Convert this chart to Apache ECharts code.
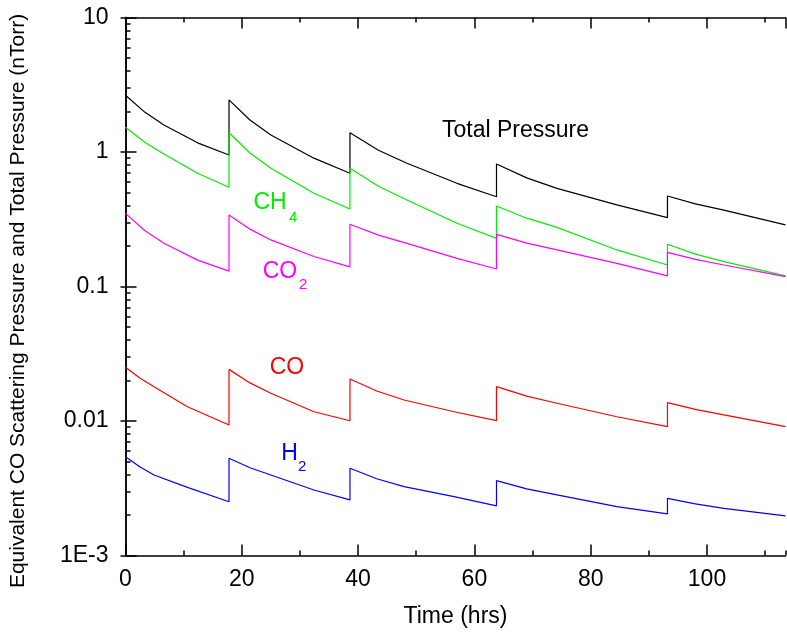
<!DOCTYPE html>
<html><head><meta charset="utf-8">
<script src="https://cdn.jsdelivr.net/npm/echarts@6/dist/echarts.min.js"></script>
<style>html,body{margin:0;padding:0;background:#fff}#c{width:787px;height:637px}</style>
</head><body><div id="c"></div>
<script>
// ---- data ----
const tUpper = [0, 3.3, 6.6, 12.4, 17.8, 17.8, 21.4, 25.0, 32.4, 38.6, 38.6, 43.5, 48.4, 57.0, 63.8, 63.8, 69.0, 74.2, 84.5, 93.2, 93.2, 98.0, 102.9, 113.5];
const totalPressure = [2.64, 1.98, 1.59, 1.17, 0.95, 2.44, 1.73, 1.34, 0.90, 0.695, 1.39, 1.03, 0.824, 0.585, 0.465, 0.814, 0.642, 0.537, 0.404, 0.325, 0.471, 0.411, 0.370, 0.287];
const ch4 = [1.53, 1.18, 0.966, 0.695, 0.547, 1.39, 0.983, 0.757, 0.493, 0.377, 0.757, 0.556, 0.44, 0.295, 0.228, 0.397, 0.322, 0.275, 0.187, 0.1445, 0.206, 0.174, 0.153, 0.120];
const co2 = [0.350, 0.261, 0.2095, 0.157, 0.130, 0.340, 0.267, 0.222, 0.167, 0.140, 0.290, 0.241, 0.2095, 0.162, 0.135, 0.244, 0.210, 0.187, 0.1487, 0.120, 0.1796, 0.159, 0.1445, 0.1186];
const tLower = [0, 2.45, 4.9, 10.65, 17.8, 17.8, 21.4, 25.0, 32.4, 38.6, 38.6, 43.2, 47.9, 56.5, 63.8, 63.8, 69.0, 74.2, 84.5, 93.2, 93.2, 98.0, 102.9, 113.5];
const co = [0.0251, 0.0209, 0.0180, 0.01277, 0.00933, 0.0242, 0.0192, 0.01607, 0.01172, 0.01005, 0.0205, 0.0167, 0.01432, 0.01172, 0.01005, 0.0180, 0.0153, 0.01355, 0.01076, 0.00908, 0.01368, 0.0122, 0.0111, 0.00908];
const h2 = [0.00543, 0.00457, 0.00397, 0.00321, 0.00251, 0.00528, 0.00449, 0.00397, 0.00307, 0.00259, 0.00445, 0.00372, 0.00325, 0.00274, 0.00234, 0.0036, 0.00313, 0.00282, 0.00231, 0.00204, 0.00266, 0.00242, 0.00224, 0.00197];
const yTickValues = [0.001, 0.01, 0.1, 1, 10];
const yTickLabels = ['1E-3', '0.01', '0.1', '1', '10'];
const yMinorValues = [];
for (const d of [0.001, 0.01, 0.1, 1]) for (let k = 2; k <= 9; k++) yMinorValues.push(+(k * d).toPrecision(3));

const FONT = '"Liberation Sans", Arial, sans-serif';
const X_MAX = 113.5;
function pairs(t, v) { return t.map((x, i) => [x, v[i]]); }

const chart = echarts.init(document.getElementById('c'));
const axLine = { show: true, lineStyle: { color: '#000', width: 1.5 } };
const noLine = { show: false };
const tick = (len) => ({ show: true, inside: true, length: len, lineStyle: { color: '#000', width: 1.5 } });

function line(name, t, v, color) {
  return { name, type: 'line', xAxisIndex: 0, yAxisIndex: 0, data: pairs(t, v), showSymbol: false, symbol: 'none',
    lineStyle: { color, width: 1.2 }, itemStyle: { color }, animation: false, silent: true };
}

chart.setOption({
  animation: false,
  backgroundColor: '#fff',
  grid: { left: 125.5, right: 1.5, top: 17.5, bottom: 81.5, containLabel: false },
  xAxis: [
    { type: 'value', position: 'bottom', min: 0, max: X_MAX, interval: 20, axisLine: axLine, axisTick: tick(11),
      axisLabel: { color: '#000', fontSize: 23, fontFamily: FONT, margin: 13, showMaxLabel: false },
      splitLine: { show: false },
      name: 'Time (hrs)', nameLocation: 'middle', nameGap: 50,
      nameTextStyle: { color: '#000', fontSize: 23, fontFamily: FONT } },
    { type: 'value', position: 'bottom', min: 0, max: X_MAX, interval: 10, axisLine: noLine, axisTick: tick(5),
      axisLabel: { show: false }, splitLine: { show: false } },
    { type: 'value', position: 'top', min: 0, max: X_MAX, interval: 20, axisLine: axLine, axisTick: tick(11),
      axisLabel: { show: false }, splitLine: { show: false } },
    { type: 'value', position: 'top', min: 0, max: X_MAX, interval: 10, axisLine: noLine, axisTick: tick(5),
      axisLabel: { show: false }, splitLine: { show: false } }
  ],
  yAxis: [
    { type: 'log', logBase: 10, position: 'left', min: 0.001, max: 10, axisLine: axLine,
      axisTick: Object.assign(tick(11), { customValues: yTickValues }),
      axisLabel: { color: '#000', fontSize: 23, fontFamily: FONT, margin: 17, customValues: yTickValues,
        formatter: (v) => { const i = yTickValues.findIndex(x => Math.abs(x - v) / x < 1e-6); return i >= 0 ? yTickLabels[i] : ''; } },
      splitLine: { show: false } },
    { type: 'log', logBase: 10, position: 'left', min: 0.001, max: 10, axisLine: noLine,
      axisTick: Object.assign(tick(5), { customValues: yMinorValues }), axisLabel: { show: false }, splitLine: { show: false } },
    { type: 'log', logBase: 10, position: 'right', min: 0.001, max: 10, axisLine: axLine,
      axisTick: Object.assign(tick(5), { customValues: yTickValues }), axisLabel: { show: false }, splitLine: { show: false } }
  ],
  series: [
    line('Total Pressure', tUpper, totalPressure, '#000000'),
    line('CH4', tUpper, ch4, '#00ee00'),
    line('CO2', tUpper, co2, '#ff00ff'),
    line('CO', tLower, co, '#ff0000'),
    line('H2', tLower, h2, '#0000ff')
  ],
  graphic: [
    { type: 'text', x: 18, y: 301, rotation: Math.PI / 2,
      style: { text: 'Equivalent CO Scattering Pressure and Total Pressure (nTorr)', fontSize: 21, fontFamily: FONT, fill: '#000', align: 'center', verticalAlign: 'middle' } },
    { type: 'text', x: 515.5, y: 131, style: { text: 'Total Pressure', fontSize: 23, fontFamily: FONT, fill: '#000', align: 'center', verticalAlign: 'middle' } },
    { type: 'text', x: 270, y: 203, style: { text: 'CH', fontSize: 23, fontFamily: FONT, fill: '#00ee00', align: 'center', verticalAlign: 'middle' } },
    { type: 'text', x: 289, y: 218, style: { text: '4', fontSize: 15, fontFamily: FONT, fill: '#00ee00', align: 'left', verticalAlign: 'middle' } },
    { type: 'text', x: 280, y: 272, style: { text: 'CO', fontSize: 23, fontFamily: FONT, fill: '#ff00ff', align: 'center', verticalAlign: 'middle' } },
    { type: 'text', x: 299, y: 285, style: { text: '2', fontSize: 15, fontFamily: FONT, fill: '#ff00ff', align: 'left', verticalAlign: 'middle' } },
    { type: 'text', x: 287, y: 367.5, style: { text: 'CO', fontSize: 23, fontFamily: FONT, fill: '#ff0000', align: 'center', verticalAlign: 'middle' } },
    { type: 'text', x: 289.5, y: 454, style: { text: 'H', fontSize: 23, fontFamily: FONT, fill: '#0000ff', align: 'center', verticalAlign: 'middle' } },
    { type: 'text', x: 298, y: 467, style: { text: '2', fontSize: 15, fontFamily: FONT, fill: '#0000ff', align: 'left', verticalAlign: 'middle' } }
  ]
});
</script>
</body></html>
